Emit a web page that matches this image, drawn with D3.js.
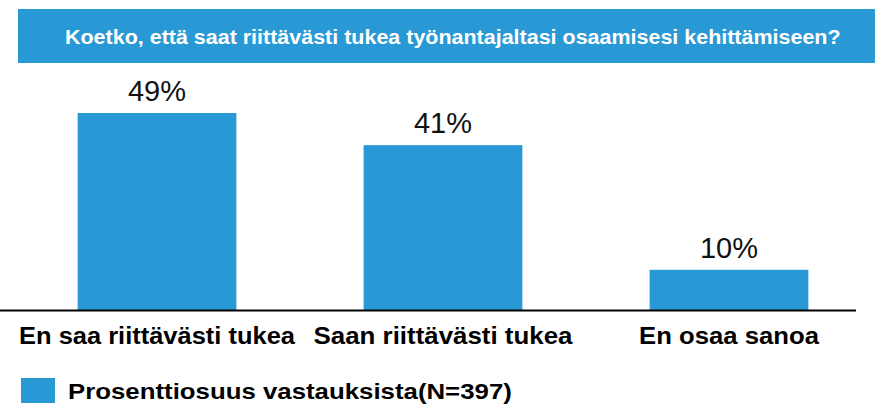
<!DOCTYPE html>
<html><head><meta charset="utf-8">
<script src="https://cdn.jsdelivr.net/npm/d3@7"></script>
<style>body{margin:0;background:#fff}svg{display:block}text{font-family:"Liberation Sans",Arial,sans-serif}</style>
</head><body><svg id="c" width="875" height="406"></svg>
<script>
const title = "Koetko, että saat riittävästi tukea työnantajaltasi osaamisesi kehittämiseen?";
const categories = ["En saa riittävästi tukea", "Saan riittävästi tukea", "En osaa sanoa"];
const values = [49, 41, 10];
const valueLabels = ["49%", "41%", "10%"];
const seriesName = "Prosenttiosuus vastauksista(N=397)";

const color = "#2999d6";
const svg = d3.select("#c");

// horizontal stretch factor so a text reaches a target width
function stretch(node, target) {
  return target / node.getComputedTextLength();
}

// title banner
svg.append("rect").attr("x", 18).attr("y", 9).attr("width", 857).attr("height", 54).attr("fill", color);
const t = svg.append("text").attr("x", 0).attr("y", 0)
  .attr("fill", "#fff").attr("font-weight", "bold").attr("font-size", 20.5).text(title);
t.attr("transform", `translate(65,44) scale(${stretch(t.node(), 776)},1)`);

const x = d3.scaleBand().domain(categories).range([14, 872]).padding(0);
const y = d3.scaleLinear().domain([0, 49]).range([310, 113]);
const bw = x.bandwidth() * 0.555;

const data = categories.map((c, i) => ({c, v: values[i], l: valueLabels[i]}));

svg.selectAll("rect.bar").data(data).join("rect").attr("class", "bar")
  .attr("x", d => x(d.c) + x.bandwidth() / 2 - bw / 2)
  .attr("width", bw)
  .attr("y", d => y(d.v))
  .attr("height", d => y(0) - y(d.v))
  .attr("fill", color);

svg.selectAll("text.val").data(data).join("text").attr("class", "val")
  .attr("x", d => x(d.c) + x.bandwidth() / 2)
  .attr("y", d => y(d.v) - 12)
  .attr("text-anchor", "middle").attr("font-size", 29).attr("fill", "#111")
  .text(d => d.l);

// axis
const axis = svg.append("g").attr("transform", "translate(0,310.5)")
  .call(d3.axisBottom(x).tickSize(0).tickPadding(0));
axis.select(".domain").attr("d", "M-2,0H856").attr("stroke", "#000").attr("stroke-width", 2);
const tickTargets = [276, 259, 180];
axis.selectAll(".tick text").attr("font-size", 24).attr("font-weight", "bold")
  .attr("fill", "#000").attr("dy", null).attr("y", 34).attr("x", 0)
  .style("font-family", '"Liberation Sans",Arial,sans-serif')
  .each(function (d, i) {
    d3.select(this).attr("transform", `scale(${stretch(this, tickTargets[i])},1)`);
  });

// legend
svg.append("rect").attr("x", 21).attr("y", 378).attr("width", 34).attr("height", 25).attr("fill", color);
const lg = svg.append("text").attr("x", 0).attr("y", 0).attr("font-size", 23).attr("font-weight", "bold")
  .attr("fill", "#000").text(seriesName);
lg.attr("transform", `translate(68,399) scale(${stretch(lg.node(), 444)},1)`);
</script></body></html>
